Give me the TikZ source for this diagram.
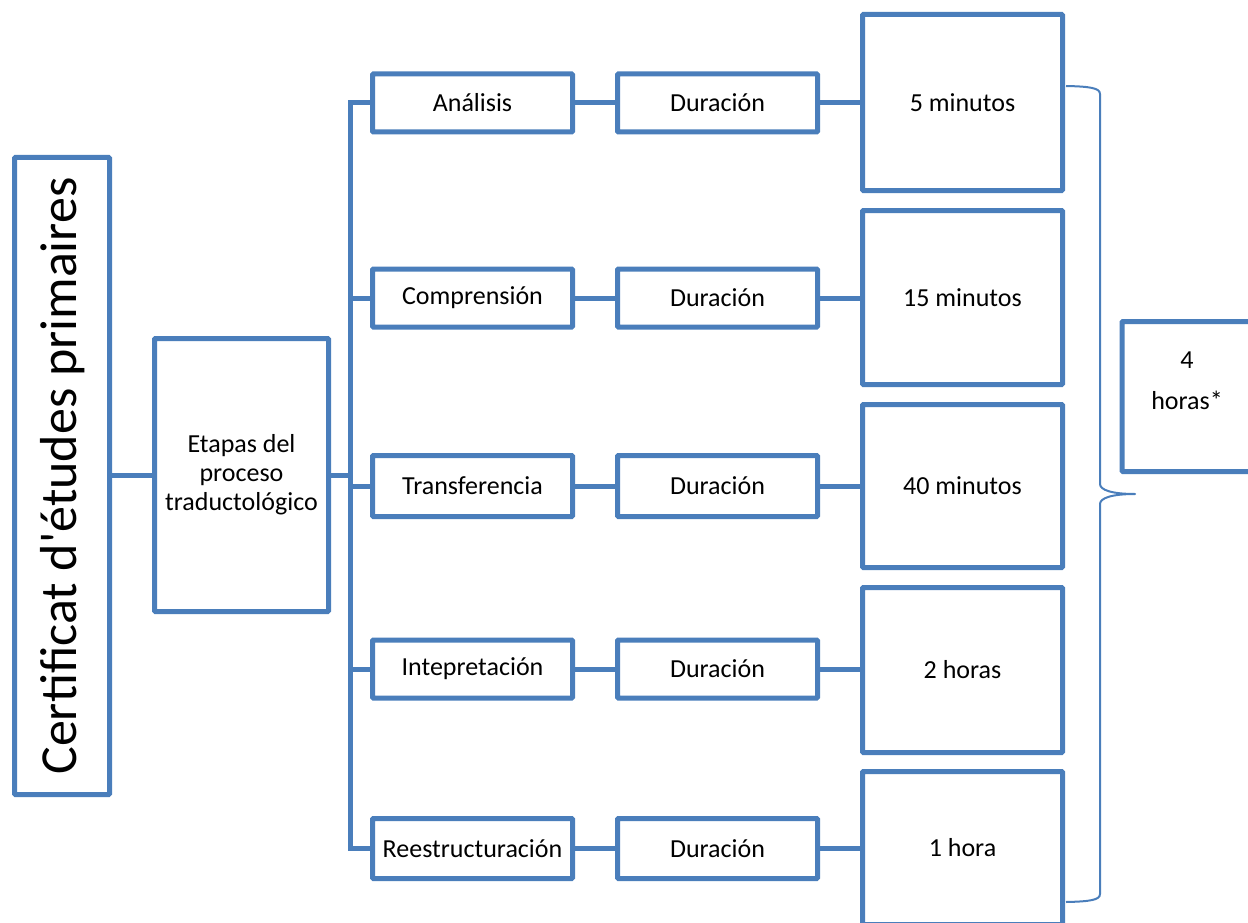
\documentclass[tikz,border=0pt]{standalone}
\usepackage{fontspec}
\setmainfont{Carlito}
% straight apostrophe in the title column
\newfontfamily\titlefont[Ligatures=TeXOff]{Carlito}
\definecolor{boxblue}{RGB}{74,126,187}
\begin{document}
\begin{tikzpicture}[x=1pt,y=-1pt,
  box/.style={draw=boxblue, line width=5pt, rounded corners=1pt, fill=white,
    minimum width=200pt, minimum height=58pt, inner sep=0pt, align=center,
    font=\fontsize{26}{29}\selectfont},
  valbox/.style={box, minimum height=#1},
  link/.style={draw=boxblue, line width=5pt},
  bracestyle/.style={draw=boxblue, line width=2pt}]
\useasboundingbox (0,0) rectangle (1248,923);

% title column and stage group
\node[box, minimum width=95pt, minimum height=637pt] (cert) at (62,476) {};
\node[rotate=90, font=\titlefont\fontsize{52}{60}\selectfont, inner sep=0pt] (certtxt) at (63,476)
  {Certificat d'études primaires};
\node[box, minimum width=174pt, minimum height=273pt] (etapas) at (241.5,475)
  {Etapas del\\proceso\\traductológico};

% stages
\node[box] (s1) at (472.5,103) {Análisis};
\node[box] (s2) at (472.5,298) {Comprensión};
\node[box, minimum height=61pt] (s3) at (472.5,486) {Transferencia};
\node[box] (s4) at (472.5,669) {Intepretación};
\node[box, minimum height=60pt] (s5) at (472.5,848.5) {Reestructuración};

% duration labels
\node[box] (d1) at (717.5,103) {Duración};
\node[box] (d2) at (717.5,298) {Duración};
\node[box, minimum height=61pt] (d3) at (717.5,486) {Duración};
\node[box] (d4) at (717.5,669) {Duración};
\node[box, minimum height=60pt] (d5) at (717.5,848.5) {Duración};

% duration values
\node[valbox=176pt] (v1) at (962.5,102.5) {5 minutos};
\node[valbox=174pt] (v2) at (962.5,297.5) {15 minutos};
\node[valbox=163pt] (v3) at (962.5,486) {40 minutos};
\node[valbox=165pt] (v4) at (962.5,670) {2 horas};
\node[valbox=153pt] (v5) at (962.5,848) {1 hora};

% total
\node[box, minimum width=130pt, minimum height=150pt] (total) at (1187,396.5) {};
\node[align=center, font=\fontsize{26}{41}\selectfont, inner sep=0pt] (totaltxt)
  at (1187,381) {4\\horas*};

% connectors
\coordinate (bus) at (350,475);
\draw[link] (cert.east |- etapas.west) -- (etapas.west);
\draw[link] (etapas.east) -- (bus);
\draw[link] (s1.west) -| (bus |- s5.west) -- (s5.west);
\draw[link] (s2.west) -- (s2.west -| bus);
\draw[link] (s3.west) -- (s3.west -| bus);
\draw[link] (s4.west) -- (s4.west -| bus);
\foreach \i in {1,...,5}{
  \draw[link] (s\i.east) -- (d\i.west);
  \draw[link] (d\i.east) -- (d\i.east -| v\i.west);
}

% brace grouping all durations
\coordinate (bracetop) at (1066,86);
\coordinate (bracetip) at (1135,494);
\coordinate (bracebot) at (1066,902);
\draw[bracestyle, line join=round] (bracetop)
  .. controls (1090,86.5) and (1100,88) .. (1100,94)
  -- (1100,484)
  .. controls (1100,490) and (1112,494) .. (bracetip)
  .. controls (1112,494) and (1100,498) .. (1100,504)
  -- (1100,894)
  .. controls (1100,900) and (1090,901.5) .. (bracebot);
\end{tikzpicture}
\end{document}
